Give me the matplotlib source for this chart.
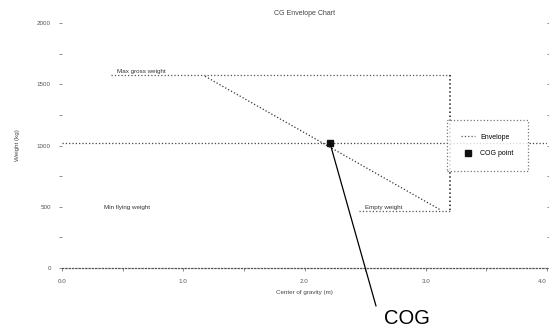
import matplotlib
matplotlib.use("Agg")
import matplotlib.pyplot as plt

# ---- data ----
x_ticks = [0, 1, 2, 3, 4]
x_tick_labels = ["0.0", "1.0", "2.0", "3.0", "4.0"]
y_ticks = [0, 1, 2, 3, 4]
y_tick_labels = ["0", "500", "1000", "1500", "2000"]

upper_x = [0.40, 3.20]
upper_y = [3.15, 3.15]
right_x = [3.20, 3.20]
right_y = [3.15, 0.92]
lower_x = [2.45, 3.20]
lower_y = [0.93, 0.93]
diag_x = [1.18, 3.12]
diag_y = [3.13, 0.95]
ref_y = 2.04
cog_x = [2.21]
cog_y = [2.04]

plt.rcParams['font.family'] = ['Liberation Sans', 'DejaVu Sans']

fig = plt.figure(figsize=(5.49, 3.31), dpi=100)
ax = fig.add_axes([62/549, (331-268)/331, (547-62)/549, (268-23)/331])

gray = "#555555"
ax.plot(upper_x, upper_y, linestyle=":", color=gray, lw=0.9, label="Envelope")
ax.plot(right_x, right_y, linestyle=":", color="#222222", lw=1.1)
ax.plot(lower_x, lower_y, linestyle=":", color=gray, lw=0.9)
ax.plot(diag_x, diag_y, linestyle=":", color="#333333", lw=0.9)
ax.axhline(ref_y, linestyle=":", color="#444444", lw=0.9)
ax.plot(cog_x, cog_y, marker="s", color="#111111", ms=4, linestyle="none", label="COG point")

ax.text(0.45, 3.17, "Max gross weight", fontsize=4.5, color="#333333", va="bottom")
ax.text(0.35, 0.95, "Min flying weight", fontsize=4.5, color="#333333", va="bottom")
ax.text(2.5, 0.95, "Empty weight", fontsize=4.5, color="#333333", va="bottom")

# leader line from the COG point down to the label
ax.annotate("", xy=(cog_x[0], cog_y[0]), xycoords="data",
            xytext=(376, 331-306), textcoords="figure pixels",
            annotation_clip=False,
            arrowprops=dict(arrowstyle="-", color="black", lw=0.9,
                            shrinkA=0, shrinkB=0))
fig.text(407/549, 1-318/331, "COG", fontsize=14.5, ha="center", va="center",
         color="black")

ax.set_xlim(0, 4)
ax.set_ylim(0, 4)
ax.set_xticks(x_ticks)
ax.set_xticklabels(x_tick_labels, fontsize=4.5, color="#555555")
ax.get_xticklabels()[-1].set_horizontalalignment("right")
ax.set_yticks(y_ticks)
ax.set_yticklabels(y_tick_labels, fontsize=4.5, color="#555555")
ax.set_xticks([0.5, 1.5, 2.5, 3.5], minor=True)
ax.set_yticks([0.5, 1.5, 2.5, 3.5], minor=True)
ax.tick_params(axis="both", which="both", length=2, width=0.6, color="#777777", pad=6)
ax.tick_params(right=True, which="both")

for s in ["top", "left", "right"]:
    ax.spines[s].set_visible(False)
ax.spines["bottom"].set_linestyle(":")
ax.spines["bottom"].set_color("#555555")
ax.spines["bottom"].set_linewidth(0.9)

ax.set_xlabel("Center of gravity (m)", fontsize=4.5, color="#444444", labelpad=4)
ax.set_ylabel("Weight (kg)", fontsize=4.5, color="#444444", labelpad=12)
ax.set_title("CG Envelope Chart", fontsize=5, color="#444444", pad=6)

leg = ax.legend(loc="center right", bbox_to_anchor=(0.967, 0.5), fontsize=5,
                frameon=True, fancybox=False, borderpad=2.0, handlelength=2.0,
                labelspacing=1.4)
leg.get_frame().set_edgecolor("#555555")
leg.get_frame().set_linestyle(":")
leg.get_frame().set_linewidth(0.9)

fig.savefig("out.png", dpi=100)
